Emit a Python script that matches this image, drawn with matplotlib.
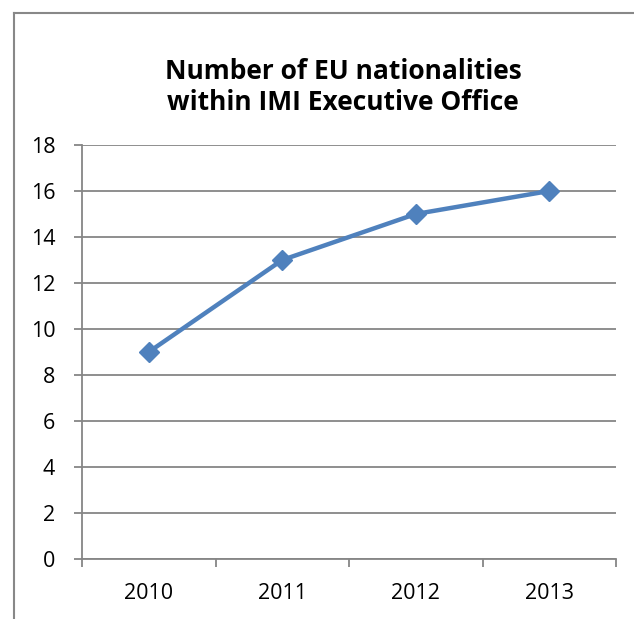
import matplotlib.pyplot as plt
from matplotlib.lines import Line2D

years = ["2010", "2011", "2012", "2013"]
counts = [9, 13, 15, 16]
y_ticks = [0, 2, 4, 6, 8, 10, 12, 14, 16, 18]

plt.rcParams['font.family'] = ['Open Sans', 'DejaVu Sans']

W, H = 634, 619
fig = plt.figure(figsize=(W / 100, H / 100), dpi=100)

# plot area in pixels
left, right, top, bottom = 82, 616, 145, 559
ax = fig.add_axes([left / W, 1 - bottom / H, (right - left) / W, (bottom - top) / H])

grid_col = "#868686"
ax.plot(range(len(years)), counts, color="#4F81BD", linewidth=3.2,
        marker="D", markersize=10, zorder=3, clip_on=False)

ax.set_xlim(-0.5, len(years) - 0.5)
ax.set_ylim(0, 18)
ax.set_yticks(y_ticks)
ax.set_yticklabels([str(v) for v in y_ticks], fontsize=15.5)
ax.yaxis.grid(True, color=grid_col, linewidth=1.3)
ax.set_axisbelow(True)

# category ticks sit between the categories
ax.set_xticks([i - 0.5 for i in range(len(years) + 1)])
ax.set_xticklabels([])
ax.set_xticks(range(len(years)), minor=True)
ax.set_xticklabels(years, minor=True, fontsize=15.5)
ax.tick_params(axis="x", which="major", length=6, color=grid_col, width=1.3)
ax.tick_params(axis="x", which="minor", length=0, pad=17)
ax.tick_params(axis="y", length=5.8, color=grid_col, width=1.3, pad=13.5)

for s in ["top", "right"]:
    ax.spines[s].set_visible(False)
for s in ["left", "bottom"]:
    ax.spines[s].set_color(grid_col)
    ax.spines[s].set_linewidth(1.3)

fig.text(343 / W, 1 - 87 / H, "Number of EU nationalities\nwithin IMI Executive Office",
         ha="center", va="center", fontsize=19, fontweight="bold", linespacing=1.22)

# outer chart border (partly cut off at right/bottom)
border = "#888888"
fig.add_artist(Line2D([13.5 / W, 13.5 / W], [0, 1 - 13 / H], color=border, linewidth=1.5))
fig.add_artist(Line2D([13.5 / W, 1], [1 - 13 / H, 1 - 13 / H], color=border, linewidth=1.5))

fig.savefig("out.png", dpi=100)
